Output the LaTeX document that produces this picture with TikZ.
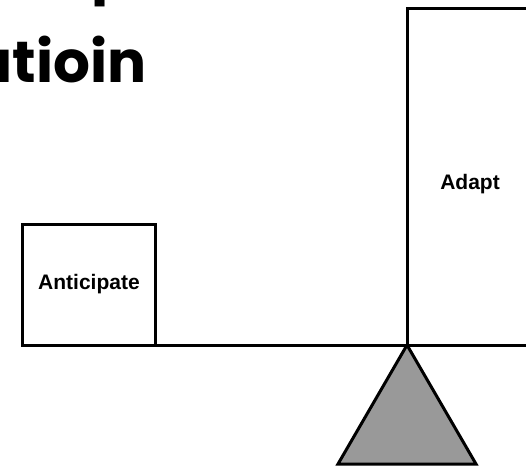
\documentclass[tikz,border=0pt]{standalone}
\usepackage{fontspec}
\setmainfont{Liberation Sans}
\newfontfamily\titlefont{Poppins}[BoldFont={* Bold}]
\begin{document}
\begin{tikzpicture}[x=1pt,y=-1pt,
  box/.style={draw=black,line width=3pt,fill=white},
  beam/.style={draw=black,line width=3pt},
  label/.style={font=\bfseries\fontsize{21}{24}\selectfont},
  title/.style={font=\titlefont\bfseries\fontsize{58}{64}\selectfont,inner sep=0pt}]
  \useasboundingbox (0,0) rectangle (526,466);
  \clip (0,0) rectangle (526,466);
  % title lines, only partly on the page
  \node[title,anchor=base east] (t1) at (131,-9) {p};
  \node[title,anchor=base east] (t2) at (147,82) {utioin};
  % the two loads
  \draw[box] (22,345) rectangle (155,224);
  \draw[box] (407,345) rectangle (540,8);
  \node[label] (ant) at (89,284) {Anticipate};
  \node[label] (ada) at (470,184) {Adapt};
  % beam and pivot
  \coordinate (bl) at (22,345);
  \coordinate (br) at (540,345);
  \coordinate (apex) at (407,345);
  \coordinate (b1) at (338,464);
  \coordinate (b2) at (476,464);
  \draw[beam] (bl) -- (br);
  \draw[line width=3pt,fill={rgb,255:red,153;green,153;blue,153},line join=miter] (apex) -- (b2) -- (b1) -- cycle;
\end{tikzpicture}
\end{document}
